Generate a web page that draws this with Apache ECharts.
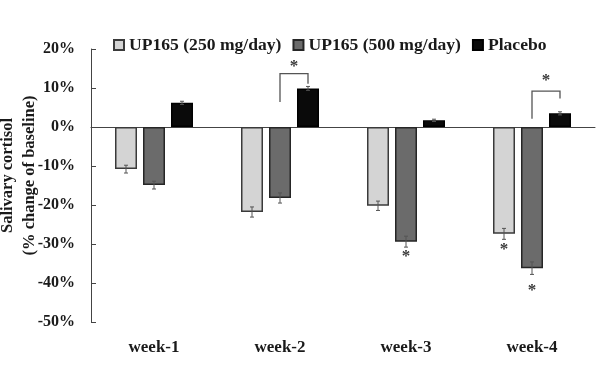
<!DOCTYPE html>
<html><head><meta charset="utf-8">
<script src="https://cdn.jsdelivr.net/npm/echarts@6/dist/echarts.min.js"></script>
<style>html,body{margin:0;padding:0;background:#fff}#c{width:598px;height:373px}</style>
</head><body><div id="c"></div>
<script>
const categories = ['week-1', 'week-2', 'week-3', 'week-4'];
const seriesNames = ['UP165 (250 mg/day)', 'UP165 (500 mg/day)', 'Placebo'];
const up250 = [-10.8, -21.8, -20.2, -27.4];
const up500 = [-14.9, -18.2, -29.4, -36.2];
const placebo = [6.2, 9.9, 1.7, 3.5];
const up250Err = [1.0, 1.3, 1.2, 1.4];
const up500Err = [1.0, 1.3, 1.4, 1.6];
const placeboErr = [0.4, 0.5, 0.3, 0.4];
// single asterisks below bars: [categoryIndex, seriesIndex, value]
const starsBelow = [[2, 1, -33.3], [3, 0, -31.4], [3, 1, -41.9]];
// brackets: [categoryIndex, fromSeries, toSeries, leftEnd, top, rightEnd, starValue]
const brackets = [[1, 1, 2, 6.4, 13.7, 11.1, 15.5], [3, 1, 2, 2.1, 9.2, 7.3, 11.8]];
const yTicks = {min: -50, max: 20, interval: 10};

const font = 'Liberation Serif';
const txt = '#1a1a1a';
const barW = 22, gapPx = 6;
const offsetOf = i => (i - 1) * (barW + gapPx);
const colors = ['#d4d4d4', '#6b6b6b', '#0a0a0a'];
const borders = ['#3a3a3a', '#262626', '#000'];

const allVals = [up250, up500, placebo];
const allErr = [up250Err, up500Err, placeboErr];

const errData = [];
allVals.forEach((arr, s) => arr.forEach((v, c) => errData.push([c, v, allErr[s][c], s])));

const starStyle = {text: '*', fontFamily: font, fontWeight: 'bold', fontSize: 17, fill: '#3a3a3a', align: 'center', verticalAlign: 'middle'};

const chart = echarts.init(document.getElementById('c'), null, {renderer: 'canvas'});
chart.setOption({
  animation: false,
  backgroundColor: '#fff',
  grid: {left: 91, right: 3, top: 49, bottom: 51, containLabel: false, outerBoundsMode: 'none'},
  legend: {
    top: 31, left: 108, itemWidth: 10, itemHeight: 10, itemGap: 11, icon: 'rect',
    textStyle: {fontFamily: font, fontWeight: 'bold', fontSize: 17.6, color: txt},
    data: seriesNames
  },
  xAxis: [{
    type: 'category', data: categories,
    axisLine: {onZero: true, lineStyle: {color: '#444', width: 1}},
    axisTick: {show: false}, axisLabel: {show: false}
  }, {
    type: 'category', data: categories, position: 'bottom',
    axisLine: {show: false, onZero: false}, axisTick: {show: false},
    axisLabel: {margin: 17, fontFamily: font, fontWeight: 'bold', fontSize: 17, color: txt}
  }],
  yAxis: {
    type: 'value', min: yTicks.min, max: yTicks.max, interval: yTicks.interval,
    name: 'Salivary cortisol\n(% change of baseline)', nameLocation: 'middle', nameRotate: 90, nameGap: 50,
    nameMoveOverlap: false,
    nameTextStyle: {fontFamily: font, fontWeight: 'bold', fontSize: 16.5, color: txt, lineHeight: 22, padding: [0, 0, 0, 20]},
    axisLine: {show: true, lineStyle: {color: '#444'}},
    axisTick: {show: true, inside: true, length: 5, lineStyle: {color: '#444'}},
    splitLine: {show: false},
    axisLabel: {formatter: v => v + '%', margin: 16, fontFamily: font, fontWeight: 'bold', fontSize: 16, color: txt}
  },
  series: [
    ...seriesNames.map((n, i) => ({
      name: n, type: 'bar', data: allVals[i], barWidth: barW, barGap: (gapPx / barW * 100) + '%',
      itemStyle: {color: colors[i], borderColor: borders[i], borderWidth: 1.5}
    })),
    {
      type: 'custom', silent: true, z: 5, data: errData,
      renderItem: (params, api) => {
        const c = api.value(0), v = api.value(1), e = api.value(2), s = api.value(3);
        const p1 = api.coord([c, v - e]), p2 = api.coord([c, v + e]);
        const x = p1[0] + offsetOf(s);
        const st = {stroke: '#555', lineWidth: 1};
        return {type: 'group', children: [
          {type: 'line', shape: {x1: x, y1: p1[1], x2: x, y2: p2[1]}, style: st},
          {type: 'line', shape: {x1: x - 2, y1: p1[1], x2: x + 2, y2: p1[1]}, style: st},
          {type: 'line', shape: {x1: x - 2, y1: p2[1], x2: x + 2, y2: p2[1]}, style: st}
        ]};
      }
    },
    {
      type: 'custom', silent: true, z: 6, data: starsBelow,
      renderItem: (params, api) => {
        const p = api.coord([api.value(0), api.value(2)]);
        return {type: 'text', x: p[0] + offsetOf(api.value(1)), y: p[1], style: starStyle};
      }
    },
    {
      type: 'custom', silent: true, z: 6, data: brackets,
      renderItem: (params, api) => {
        const c = api.value(0);
        const xl = api.coord([c, 0])[0] + offsetOf(api.value(1));
        const xr = api.coord([c, 0])[0] + offsetOf(api.value(2));
        const yl = api.coord([c, api.value(3)])[1];
        const yt = api.coord([c, api.value(4)])[1];
        const yr = api.coord([c, api.value(5)])[1];
        const ys = api.coord([c, api.value(6)])[1];
        return {type: 'group', children: [
          {type: 'polyline', shape: {points: [[xl, yl], [xl, yt], [xr, yt], [xr, yr]]}, style: {stroke: '#555', lineWidth: 1.3, fill: null}},
          {type: 'text', x: (xl + xr) / 2, y: ys, style: starStyle}
        ]};
      }
    }
  ]
});
</script></body></html>
